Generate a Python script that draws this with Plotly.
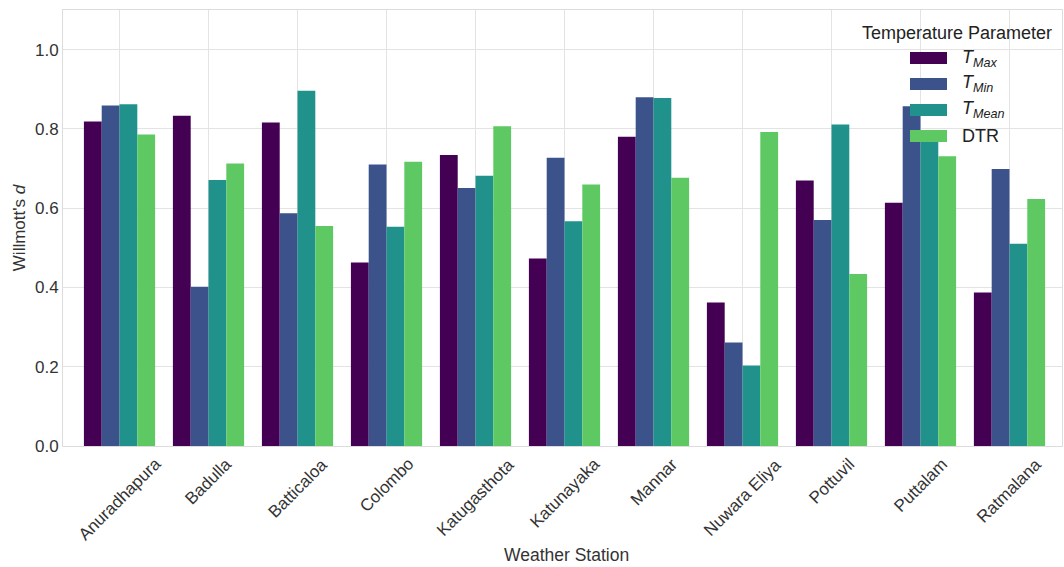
import plotly.graph_objects as go

stations = ["Anuradhapura", "Badulla", "Batticaloa", "Colombo", "Katugasthota",
            "Katunayaka", "Mannar", "Nuwara Eliya", "Pottuvil", "Puttalam", "Ratmalana"]

t_max = [0.819, 0.833, 0.816, 0.463, 0.734, 0.473, 0.780, 0.362, 0.670, 0.614, 0.387]
t_min = [0.859, 0.402, 0.587, 0.710, 0.651, 0.727, 0.880, 0.261, 0.570, 0.857, 0.699]
t_mean = [0.862, 0.671, 0.896, 0.553, 0.682, 0.567, 0.878, 0.203, 0.811, 0.780, 0.510]
dtr = [0.786, 0.713, 0.555, 0.717, 0.807, 0.660, 0.677, 0.792, 0.434, 0.731, 0.623]

series_names = ["<i>T</i><sub><i>Max</i></sub>", "<i>T</i><sub><i>Min</i></sub>",
                "<i>T</i><sub><i>Mean</i></sub>", "DTR"]
series_values = [t_max, t_min, t_mean, dtr]
colors = ["#440154", "#3b528b", "#21918c", "#5ec962"]

W, H = 1064, 567
L, R, T, B = 63, 2, 10, 121
FONT = "Liberation Sans, Arial, sans-serif"
TXT = "#333333"

fig = go.Figure()
for name, vals, col in zip(series_names, series_values, colors):
    fig.add_trace(go.Bar(x=stations, y=vals, name=name, marker_color=col,
                         marker_line_width=0, showlegend=False))

# plot-area pixel -> paper coordinate helpers
pw, ph = W - L - R, H - T - B
def px(x):
    return (x - L) / pw
def py(y):
    return (H - B - y) / ph

shapes, annotations = [], []

# legend drawn as wide patches with labels
annotations.append(dict(text="Temperature Parameter", xref="paper", yref="paper",
                        x=px(1054), y=py(33), xanchor="right", yanchor="middle",
                        showarrow=False, font=dict(size=18, color="#222222", family=FONT)))
for i, (name, col) in enumerate(zip(series_names, colors)):
    cy = 58 + i * 26
    shapes.append(dict(type="rect", xref="paper", yref="paper",
                       x0=px(910), x1=px(947), y0=py(cy - 6), y1=py(cy + 6),
                       fillcolor=col, line_width=0, layer="above"))
    annotations.append(dict(text=name, xref="paper", yref="paper",
                            x=px(960), y=py(cy), xanchor="left", yanchor="middle",
                            showarrow=False, font=dict(size=18, color="#222222", family=FONT)))

# rotated station labels centred under each group
for s in stations:
    annotations.append(dict(text=s, xref="x", yref="paper", x=s, y=py(452),
                            xanchor="center", yanchor="top", textangle=-45,
                            showarrow=False, font=dict(size=17, color=TXT, family=FONT)))

annotations.append(dict(text="Weather Station", xref="paper", yref="paper",
                        x=px(566), y=py(555), xanchor="center", yanchor="middle",
                        showarrow=False, font=dict(size=17.5, color=TXT, family=FONT)))

fig.update_layout(
    width=W, height=H,
    margin=dict(l=L, r=R, t=T, b=B),
    paper_bgcolor="white", plot_bgcolor="white",
    barmode="group", bargap=0.2, bargroupgap=0,
    shapes=shapes, annotations=annotations,
    font=dict(family=FONT, size=17, color=TXT),
    xaxis=dict(range=[-0.635, 10.59], showticklabels=False, ticks="",
               showgrid=True, gridcolor="#e3e3e3", gridwidth=1,
               showline=True, mirror=True, linecolor="#dcdcdc", linewidth=1,
               zeroline=False),
    yaxis=dict(range=[0, 1.1], tickvals=[0, 0.2, 0.4, 0.6, 0.8, 1.0], tickformat=".1f",
               ticks="", ticklen=0, showgrid=True, gridcolor="#e3e3e3", gridwidth=1,
               showline=True, mirror=True, linecolor="#dcdcdc", linewidth=1,
               zeroline=False, tickfont=dict(size=17, color=TXT),
               title=dict(text="Willmott's <i>d</i>", font=dict(size=17, color=TXT),
                          standoff=5)),
)

fig.write_html("out.html")
